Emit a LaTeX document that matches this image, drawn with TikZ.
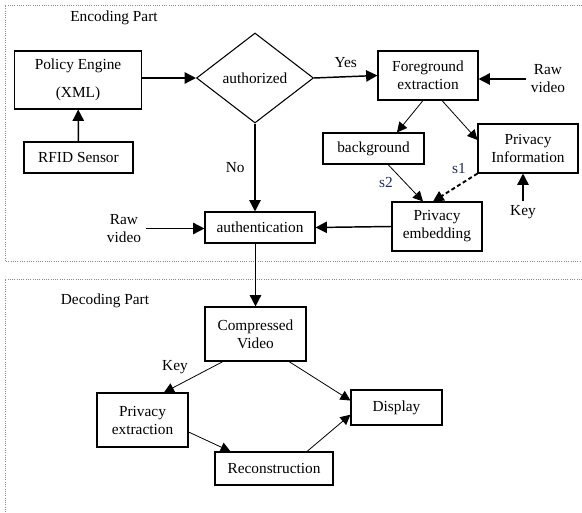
\documentclass[tikz,border=0pt]{standalone}
\usepackage{fontspec}
\setmainfont{Liberation Serif}
\usetikzlibrary{arrows.meta,shapes.geometric}
\definecolor{flowink}{HTML}{000000}
\definecolor{flowgrid}{HTML}{8A8A8A}
\definecolor{flowlabel}{HTML}{1F2A5C}

\begin{document}
\begin{tikzpicture}[x=0.75pt,y=-0.75pt,line cap=butt,
    font=\fontsize{11.5}{13.5}\selectfont,
    box/.style={draw=flowink,line width=0.8pt,align=center,inner sep=0pt},
    flow/.style={flowink,line width=1.1pt,-{Triangle[length=8.5pt,width=8.5pt]}},
    thinflow/.style={flowink,line width=0.6pt,-{Triangle[length=7.5pt,width=7.5pt]}},
    frame/.style={flowgrid,line width=0.7pt,densely dotted}]
    \useasboundingbox (0,0) rectangle (582,513);
    % frames
    \draw[frame] (582,5) -- (5,5) -- (5,261) -- (582,261);
    \draw[frame] (582,279) -- (5,279) -- (5,513);
    \node at (114,18) {Encoding Part};
    \node at (105,301) {Decoding Part};
    % encoding part
    \node[box,minimum width=95.25pt,minimum height=43.5pt] (policy) at (78,80) {Policy Engine\\[7.5pt](XML)};
    \node[box,minimum width=81.75pt,minimum height=23.25pt] (rfid) at (78.5,157.5) {RFID Sensor};
    \node[draw=flowink,line width=0.8pt,diamond,aspect=1.3,inner sep=0pt,minimum width=87.75pt,minimum height=67.5pt] (authz) at (255,78) {authorized};
    \node[box,minimum width=75pt,minimum height=36.75pt] (fg) at (428,75.5) {Foreground\\extraction};
    \node[align=center] (rawR) at (548,79) {Raw\\video};
    \node[box,minimum width=75.75pt,minimum height=23.25pt] (bg) at (373.5,148.5) {background};
    \node[box,minimum width=75pt,minimum height=36.75pt] (pinfo) at (528,148.5) {Privacy\\Information};
    \node[box,minimum width=67.5pt,minimum height=36.75pt] (emb) at (437,226.5) {Privacy\\embedding};
    \node (key) at (523,212) {Key};
    \node[box,minimum width=82.5pt,minimum height=23.25pt] (auth) at (260,227.5) {authentication};
    \node[align=center] (rawL) at (124,228.5) {Raw\\video};
    \draw[flow] (rfid) -- (policy);
    \draw[flow] (authz.west -| policy.east) -- (authz.west);
    \draw[flow] (authz.east) -- node[above=3pt] {Yes} (fg.west);
    \draw[flow] (rawR.west) -- (rawR.west -| fg.east);
    \draw[flow] (authz.south) -- node[left=4pt] {No} (authz.south |- auth.north);
    \draw[thinflow] ([xshift=-3.75pt]fg.south) -- ([xshift=17.6pt]bg.north);
    \draw[thinflow] ([xshift=10.5pt]fg.south) -- ([yshift=6.4pt]pinfo.west);
    \draw[thinflow] ([xshift=10.9pt]bg.south) -- ([xshift=-10.5pt]emb.north);
    \node[flowlabel] at (386,183) {s2};
    \draw[flowink,line width=1.4pt,densely dashed,-{Triangle[length=8pt,width=8pt]}] (pinfo.south west) -- ([xshift=-3pt]emb.north);
    \node[flowlabel] at (459,169) {s1};
    \draw[flow] (key.north) -- (key.north |- pinfo.south);
    \draw[flow] (emb.west) -- (auth.east);
    \draw[flow] (rawL.east) -- (rawL.east -| auth.west);
    % decoding part
    \node[box,minimum width=75.75pt,minimum height=40.5pt] (cv) at (255.5,334) {Compressed\\Video};
    \node[box,minimum width=68.25pt,minimum height=40.5pt] (pext) at (142.5,420) {Privacy\\extraction};
    \node[box,minimum width=68.25pt,minimum height=26.25pt] (disp) at (396.5,407.5) {Display};
    \node[box,minimum width=88.5pt,minimum height=24.75pt] (recon) at (274,468.5) {Reconstruction};
    \draw[flow] (cv.north |- auth.south) -- (cv.north);
    \draw[thinflow] ([xshift=-24.4pt]cv.south) -- ([xshift=16.1pt]pext.north);
    \node at (175,367.5) {Key};
    \draw[thinflow] ([xshift=25.1pt]cv.south) -- ([yshift=5.2pt]disp.west);
    \draw[thinflow] ([yshift=-9pt]pext.east) -- ([xshift=-32.6pt]recon.north);
    \draw[thinflow] ([xshift=24.75pt]recon.north) -- ([yshift=-5.4pt]disp.west);
\end{tikzpicture}
\end{document}
